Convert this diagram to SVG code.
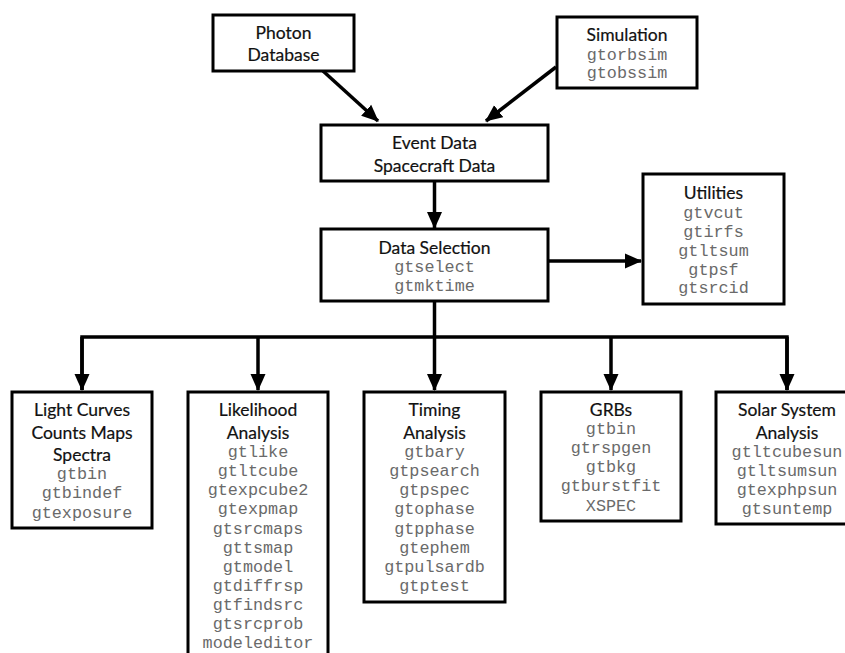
<svg xmlns="http://www.w3.org/2000/svg" width="845" height="653" viewBox="0 0 845 653">
<defs>
<marker id="ah" markerUnits="userSpaceOnUse" markerWidth="17" markerHeight="17" viewBox="0 0 17 17" refX="16" refY="8.5" orient="auto">
<path d="M0,1 L17,8.5 L0,16 z" fill="#000"/>
</marker>
<style>
.box{fill:#fff;stroke:#000;stroke-width:3}
.t{font-family:Lato,"Open Sans",sans-serif;font-size:17.5px;fill:#111;stroke:#111;stroke-width:0.2;text-anchor:middle}
.m{font-family:"Liberation Mono","Courier New",monospace;font-size:16.8px;fill:#6a6a6a;text-anchor:middle}
.c{fill:none;stroke:#000;stroke-width:3.5}
</style>
</defs>
<rect width="845" height="653" fill="#fff"/>
<g id="connectors">
<line class="c" x1="323" y1="71" x2="378" y2="121" marker-end="url(#ah)"/>
<line class="c" x1="556" y1="67" x2="486" y2="121" marker-end="url(#ah)"/>
<line class="c" x1="434.5" y1="181" x2="434.5" y2="228" marker-end="url(#ah)"/>
<line class="c" x1="548" y1="261" x2="641" y2="261" marker-end="url(#ah)"/>
<polyline class="c" points="434.5,301 434.5,337"/>
<polyline class="c" points="82,390 82,337 787,337 787,390"/>
<line class="c" x1="82" y1="337" x2="82" y2="390" marker-end="url(#ah)"/>
<line class="c" x1="258" y1="337" x2="258" y2="390" marker-end="url(#ah)"/>
<line class="c" x1="434.5" y1="337" x2="434.5" y2="390" marker-end="url(#ah)"/>
<line class="c" x1="611" y1="337" x2="611" y2="390" marker-end="url(#ah)"/>
<line class="c" x1="787" y1="337" x2="787" y2="390" marker-end="url(#ah)"/>
</g>
<g id="photon">
<rect class="box" x="213" y="15" width="141" height="56"/>
<text class="t" x="283.5" y="39">Photon</text>
<text class="t" x="283.5" y="61">Database</text>
</g>
<g id="simulation">
<rect class="box" x="557" y="17" width="140" height="71"/>
<text class="t" x="627" y="41">Simulation</text>
<text class="m" x="627" y="59.5">gtorbsim</text>
<text class="m" x="627" y="77.5">gtobssim</text>
</g>
<g id="eventdata">
<rect class="box" x="321" y="125" width="227" height="56"/>
<text class="t" x="434.5" y="149">Event Data</text>
<text class="t" x="434.5" y="172">Spacecraft Data</text>
</g>
<g id="dataselection">
<rect class="box" x="321" y="229" width="227" height="72"/>
<text class="t" x="434.5" y="254">Data Selection</text>
<text class="m" x="434.5" y="271.5">gtselect</text>
<text class="m" x="434.5" y="291">gtmktime</text>
</g>
<g id="utilities">
<rect class="box" x="643" y="174" width="141" height="130"/>
<text class="t" x="713.5" y="199">Utilities</text>
<text class="m" x="713.5" y="217.5">gtvcut</text>
<text class="m" x="713.5" y="236.5">gtirfs</text>
<text class="m" x="713.5" y="255.5">gtltsum</text>
<text class="m" x="713.5" y="274.5">gtpsf</text>
<text class="m" x="713.5" y="292.5">gtsrcid</text>
</g>
<g id="lightcurves">
<rect class="box" x="12" y="392" width="140" height="136"/>
<text class="t" x="82" y="416">Light Curves</text>
<text class="t" x="82" y="439">Counts Maps</text>
<text class="t" x="82" y="461">Spectra</text>
<text class="m" x="82" y="478.5">gtbin</text>
<text class="m" x="82" y="497.5">gtbindef</text>
<text class="m" x="82" y="517.5">gtexposure</text>
</g>
<g id="likelihood">
<rect class="box" x="188" y="392" width="140" height="275"/>
<text class="t" x="258" y="416">Likelihood</text>
<text class="t" x="258" y="439">Analysis</text>
<text class="m" x="258" y="456.5">gtlike</text>
<text class="m" x="258" y="475.5">gtltcube</text>
<text class="m" x="258" y="495">gtexpcube2</text>
<text class="m" x="258" y="514">gtexpmap</text>
<text class="m" x="258" y="533.5">gtsrcmaps</text>
<text class="m" x="258" y="552.5">gttsmap</text>
<text class="m" x="258" y="571.5">gtmodel</text>
<text class="m" x="258" y="590.5">gtdiffrsp</text>
<text class="m" x="258" y="610">gtfindsrc</text>
<text class="m" x="258" y="629">gtsrcprob</text>
<text class="m" x="258" y="648">modeleditor</text>
</g>
<g id="timing">
<rect class="box" x="364" y="392" width="141" height="210"/>
<text class="t" x="434.5" y="416">Timing</text>
<text class="t" x="434.5" y="439">Analysis</text>
<text class="m" x="434.5" y="456.5">gtbary</text>
<text class="m" x="434.5" y="475.5">gtpsearch</text>
<text class="m" x="434.5" y="495">gtpspec</text>
<text class="m" x="434.5" y="514">gtophase</text>
<text class="m" x="434.5" y="533.5">gtpphase</text>
<text class="m" x="434.5" y="552.5">gtephem</text>
<text class="m" x="434.5" y="571.5">gtpulsardb</text>
<text class="m" x="434.5" y="590.5">gtptest</text>
</g>
<g id="grbs">
<rect class="box" x="541" y="392" width="140" height="129"/>
<text class="t" x="611" y="416">GRBs</text>
<text class="m" x="611" y="433.5">gtbin</text>
<text class="m" x="611" y="453">gtrspgen</text>
<text class="m" x="611" y="472">gtbkg</text>
<text class="m" x="611" y="491">gtburstfit</text>
<text class="m" x="611" y="510.5">XSPEC</text>
</g>
<g id="solar">
<rect class="box" x="716" y="392" width="142" height="132"/>
<text class="t" x="787" y="416">Solar System</text>
<text class="t" x="787" y="439">Analysis</text>
<text class="m" x="787" y="456.5">gtltcubesun</text>
<text class="m" x="787" y="475.5">gtltsumsun</text>
<text class="m" x="787" y="495">gtexphpsun</text>
<text class="m" x="787" y="514">gtsuntemp</text>
</g>
</svg>
